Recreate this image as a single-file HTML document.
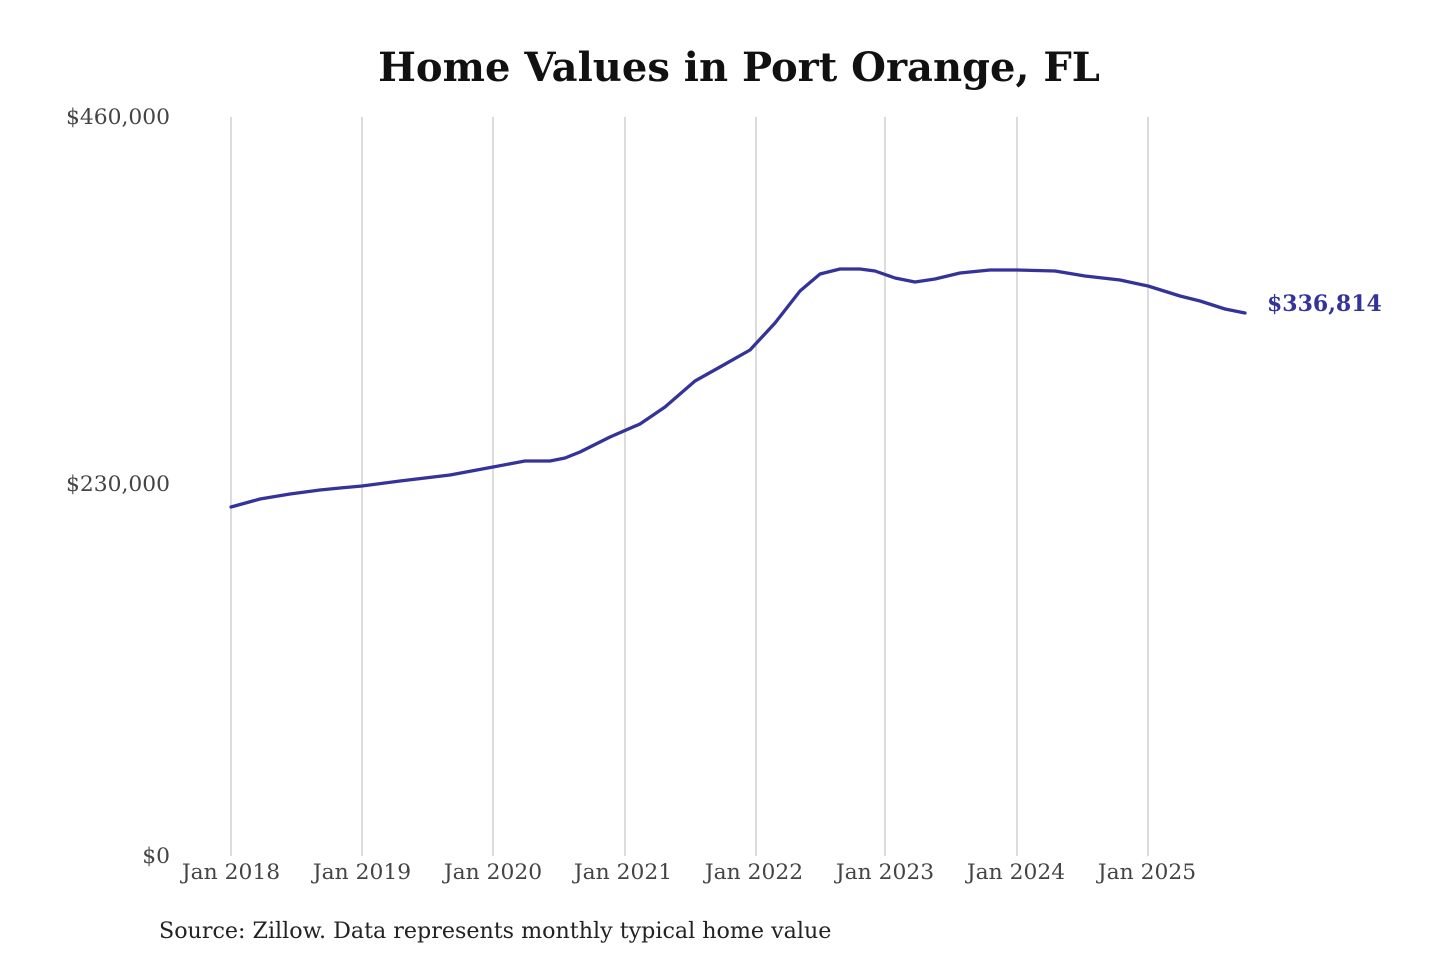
<!DOCTYPE html>
<html><head><meta charset="utf-8"><style>
html,body{margin:0;padding:0;background:#fff;width:1440px;height:960px;overflow:hidden}
svg text{font-family:"DejaVu Serif","Liberation Serif",serif}
</style></head><body>
<svg width="1440" height="960" viewBox="0 0 1440 960" xmlns="http://www.w3.org/2000/svg">
<text x="739" y="81" text-anchor="middle" font-size="40" font-weight="bold" fill="#111">Home Values in Port Orange, FL</text>
<g stroke="#c8c8c8" stroke-width="1.3">
<line x1="231" y1="117" x2="231" y2="856"/><line x1="362" y1="117" x2="362" y2="856"/>
<line x1="493" y1="117" x2="493" y2="856"/><line x1="625" y1="117" x2="625" y2="856"/>
<line x1="756" y1="117" x2="756" y2="856"/><line x1="885" y1="117" x2="885" y2="856"/>
<line x1="1017" y1="117" x2="1017" y2="856"/><line x1="1148" y1="117" x2="1148" y2="856"/>
</g>
<g font-size="21.8" fill="#444">
<text x="170" y="124" text-anchor="end">$460,000</text>
<text x="170" y="491" text-anchor="end">$230,000</text>
<text x="170" y="863" text-anchor="end">$0</text>
<g text-anchor="middle">
<text x="231" y="879">Jan 2018</text><text x="362" y="879">Jan 2019</text>
<text x="493" y="879">Jan 2020</text><text x="623" y="879">Jan 2021</text>
<text x="754" y="879">Jan 2022</text><text x="885" y="879">Jan 2023</text>
<text x="1016" y="879">Jan 2024</text><text x="1147" y="879">Jan 2025</text>
</g>
</g>
<polyline fill="none" stroke="#33339a" stroke-width="3.3" stroke-linejoin="round" stroke-linecap="round" points="231,507 260,499 290,494 320,490 340,488 362,486 400,481 450,475 493,467 525,461 550,461 565,458 580,452 610,437 640,424 665,407 695,381 720,367 750,350 775,323 800,291 820,274 840,269 860,269 875,271 895,278 915,282 935,279 960,273 990,270 1017,270 1055,271 1085,276 1120,280 1148,286 1180,296 1200,301 1225,309 1245,313"/>
<text x="1267" y="311" font-size="22" font-weight="bold" fill="#33339a">$336,814</text>
<text x="159" y="938" font-size="22.2" fill="#222">Source: Zillow. Data represents monthly typical home value</text>
</svg>
</body></html>
